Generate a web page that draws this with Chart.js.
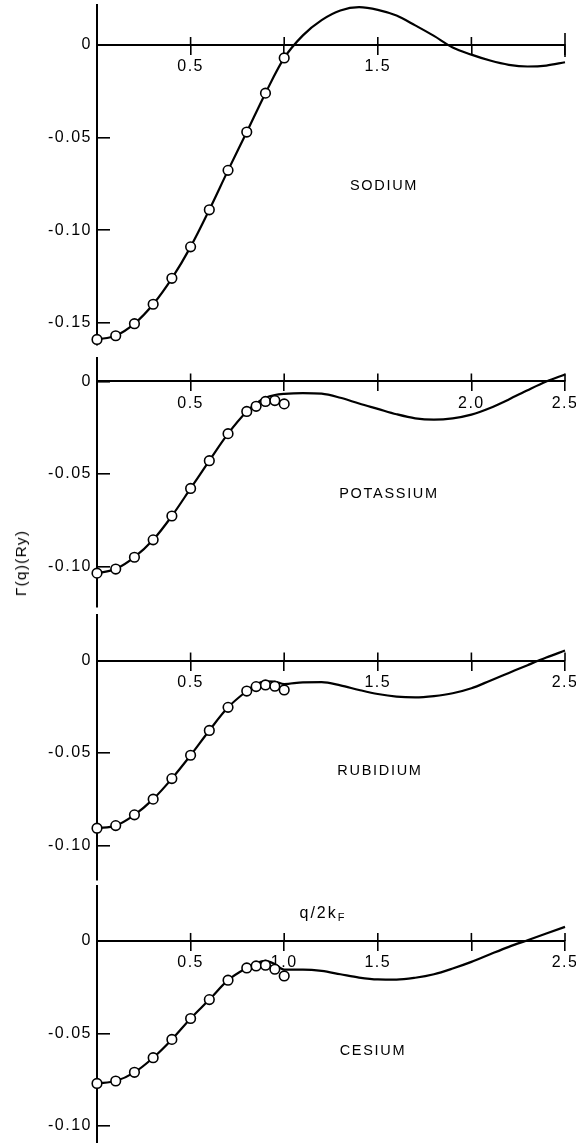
<!DOCTYPE html>
<html>
<head>
<meta charset="utf-8">
<script src="https://cdn.jsdelivr.net/npm/chart.js@4.4.1/dist/chart.umd.min.js"></script>
<style>
html,body{margin:0;padding:0;background:#fff;overflow:hidden;}
#wrap{position:relative;width:576px;height:1143px;overflow:hidden;font-family:"Liberation Sans",Arial,sans-serif;color:#000;}
canvas{position:absolute;left:0;}
.lbl{position:absolute;font-size:14.5px;letter-spacing:1.7px;transform:translate(-50%,-50%);white-space:nowrap;}
.ytitle{position:absolute;font-size:15.5px;letter-spacing:1.2px;white-space:nowrap;transform:translate(-50%,-50%) rotate(-90deg);}
.xtitle{position:absolute;font-size:16px;letter-spacing:2px;white-space:nowrap;transform:translate(-50%,-50%);}
.xtitle sub{font-size:11px;letter-spacing:0;vertical-align:-3px;}
</style>
</head>
<body>
<div id="wrap">
  <canvas id="cNa"></canvas>
  <canvas id="cK"></canvas>
  <canvas id="cRb"></canvas>
  <canvas id="cCs"></canvas>
  <div class="lbl" style="left:384px;top:185px;">SODIUM</div>
  <div class="lbl" style="left:389px;top:493px;">POTASSIUM</div>
  <div class="lbl" style="left:380px;top:770px;">RUBIDIUM</div>
  <div class="lbl" style="left:373px;top:1050px;">CESIUM</div>
  <div class="xtitle" style="left:322px;top:913px;">q/2k<sub>F</sub></div>
  <div class="ytitle" style="left:21px;top:563px;">Γ(q)(Ry)</div>
</div>
<script>
// ---------- data ----------
const naPointQ = [0, 0.1, 0.2, 0.3, 0.4, 0.5, 0.6, 0.7, 0.8, 0.9, 1.0];
const naPointGamma = [-0.159, -0.157, -0.1505, -0.140, -0.126, -0.109, -0.089, -0.0677, -0.047, -0.026, -0.007];
const naCurveQ = [0, 0.1, 0.2, 0.3, 0.4, 0.5, 0.6, 0.7, 0.8, 0.9, 1.0, 1.1, 1.2, 1.3, 1.4, 1.5, 1.6, 1.7, 1.8, 1.9, 2.0, 2.1, 2.2, 2.3, 2.4, 2.5];
const naCurveGamma = [-0.159, -0.157, -0.1505, -0.140, -0.126, -0.109, -0.089, -0.0677, -0.047, -0.026, -0.007, 0.0052, 0.0134, 0.0186, 0.0204, 0.019, 0.0159, 0.0106, 0.0049, -0.0013, -0.0052, -0.0084, -0.0107, -0.0116, -0.0111, -0.0093];

const alkPointQ = [0, 0.1, 0.2, 0.3, 0.4, 0.5, 0.6, 0.7, 0.8, 0.85, 0.9, 0.95, 1.0];
const kPointGamma = [-0.1036, -0.1014, -0.095, -0.0856, -0.0727, -0.0578, -0.0428, -0.0282, -0.0162, -0.0134, -0.0108, -0.0103, -0.0121];
const rbPointGamma = [-0.0906, -0.0892, -0.0834, -0.0749, -0.0638, -0.0512, -0.0378, -0.0253, -0.0165, -0.0141, -0.0132, -0.0139, -0.0159];
const csPointGamma = [-0.077, -0.0757, -0.071, -0.0631, -0.0532, -0.0419, -0.0317, -0.0212, -0.0146, -0.0135, -0.0131, -0.0153, -0.0189];

const alkCurveQ = [0, 0.1, 0.2, 0.3, 0.4, 0.5, 0.6, 0.7, 0.8, 0.85, 0.9, 0.95, 1.0, 1.1, 1.2, 1.3, 1.4, 1.5, 1.6, 1.7, 1.8, 1.9, 2.0, 2.1, 2.2, 2.3, 2.4, 2.5];
const kCurveGamma = [-0.1036, -0.1014, -0.095, -0.0856, -0.0727, -0.0578, -0.0428, -0.0282, -0.0162, -0.0118, -0.0088, -0.0073, -0.0067, -0.0063, -0.0066, -0.0088, -0.0119, -0.0148, -0.0177, -0.0199, -0.0206, -0.0199, -0.0179, -0.0143, -0.0097, -0.0047, 0.0000, 0.0038];
const rbCurveGamma = [-0.0906, -0.0892, -0.0834, -0.0749, -0.0638, -0.0512, -0.0378, -0.0253, -0.0165, -0.0128, -0.0112, -0.0114, -0.0127, -0.0118, -0.0117, -0.0134, -0.0159, -0.0181, -0.0195, -0.0199, -0.0192, -0.0177, -0.015, -0.0109, -0.0067, -0.0025, 0.0016, 0.0054];
const csCurveGamma = [-0.077, -0.0757, -0.071, -0.0631, -0.0532, -0.0419, -0.0317, -0.0212, -0.0146, -0.0121, -0.0108, -0.0125, -0.0155, -0.0155, -0.0162, -0.018, -0.0198, -0.0208, -0.0209, -0.0199, -0.018, -0.0149, -0.0113, -0.0072, -0.0032, 0.0004, 0.004, 0.0076];

const xTickValues = [0.5, 1.0, 1.5, 2.0, 2.5];
const naXTickLabels = ['0.5', '', '1.5', '', ''];
const kXTickLabels = ['0.5', '', '', '2.0', '2.5'];
const rbXTickLabels = ['0.5', '', '1.5', '', '2.5'];
const csXTickLabels = ['0.5', '1.0', '1.5', '', '2.5'];

const naYTickValues = [0, -0.05, -0.10, -0.15];
const naYTickLabels = ['0', '-0.05', '-0.10', '-0.15'];
const yTickValues = [0, -0.05, -0.10];
const yTickLabels = ['0', '-0.05', '-0.10'];

// axis ranges of each panel
const naRange = [-0.162, 0.0216];
const kRange = [-0.1219, 0.0127];
const rbRange = [-0.1186, 0.0246];
const csRange = [-0.1092, 0.0297];

// ---------- layout (pixels) ----------
const panelLayout = [
  {id: 'cNa', top: 5,   bottom: 345, endTick: true},
  {id: 'cK',  top: 358, bottom: 607, endTick: false},
  {id: 'cRb', top: 615, bottom: 880, endTick: false},
  {id: 'cCs', top: 886, bottom: 1143, endTick: false}
];
const AXIS_X = 97, RIGHT_X = 565, PAD = 8, W = 576;
const FONT = {family: '"Liberation Sans", Arial, sans-serif', size: 16};

const crossTicks = {
  id: 'crossTicks',
  beforeDraw(chart) { chart.ctx.letterSpacing = '1.5px'; },
  afterDraw(chart, args, opts) {
    const xs = chart.scales.x, ys = chart.scales.y, ctx = chart.ctx;
    const y0 = ys.getPixelForValue(0);
    ctx.save();
    ctx.letterSpacing = '0px';
    ctx.strokeStyle = '#000';
    ctx.lineWidth = 1.6;
    xs.ticks.forEach((t, i) => {
      const px = xs.getPixelForValue(t.value);
      const last = opts.endTick && i === xs.ticks.length - 1;
      ctx.beginPath();
      ctx.moveTo(px, last ? y0 + 12 : y0);
      ctx.lineTo(px, y0 - (last ? 12 : 8));
      ctx.stroke();
    });
    ctx.restore();
  }
};

function toXY(qs, gs) { return qs.map((q, i) => ({x: q, y: gs[i]})); }

function makePanel(layout, pq, pg, cq, cg, range, xLabels, yVals, yLabels) {
  const cv = document.getElementById(layout.id);
  const h = layout.bottom - layout.top + 2 * PAD;
  cv.width = W; cv.height = h;
  cv.style.width = W + 'px'; cv.style.height = h + 'px';
  cv.style.top = (layout.top - PAD) + 'px';
  new Chart(cv, {
    type: 'scatter',
    data: {
      datasets: [
        {data: toXY(pq, pg), showLine: false, pointRadius: 4.8, pointHoverRadius: 4.8,
         pointBorderWidth: 1.6, pointBackgroundColor: '#fff', pointBorderColor: '#000',
         clip: false, order: 0},
        {data: toXY(cq, cg), showLine: true, borderColor: '#000', borderWidth: 2.2,
         pointRadius: 0, cubicInterpolationMode: 'monotone', clip: false, order: 1}
      ]
    },
    options: {
      responsive: false,
      animation: false,
      devicePixelRatio: 1,
      layout: {padding: {left: 0, right: W - RIGHT_X, top: PAD, bottom: PAD}},
      plugins: {legend: {display: false}, tooltip: {enabled: false}, crossTicks: {endTick: layout.endTick}},
      scales: {
        x: {
          type: 'linear', position: {y: 0}, min: 0, max: 2.5,
          afterBuildTicks: s => { s.ticks = xTickValues.map(v => ({value: v})); },
          afterFit: s => { s.paddingLeft = 0; s.paddingRight = 0; s.paddingTop = 0; s.paddingBottom = 0; },
          border: {display: true, color: '#000', width: 2},
          grid: {display: true, drawOnChartArea: false, drawTicks: true, tickLength: 9, color: '#000', lineWidth: 1.6},
          ticks: {color: '#000', padding: 3, font: FONT, maxRotation: 0, autoSkip: false,
                  callback: (v, i) => xLabels[i]}
        },
        y: {
          type: 'linear', position: 'left', min: range[0], max: range[1],
          afterBuildTicks: s => { s.ticks = yVals.map(v => ({value: v})); },
          afterFit: s => { s.width = AXIS_X; s.paddingTop = 0; s.paddingBottom = 0; },
          border: {display: true, color: '#000', width: 2},
          grid: {display: true, drawOnChartArea: false, drawTicks: true, tickLength: -13, color: '#000', lineWidth: 1.6},
          ticks: {color: '#000', padding: 18, font: FONT, autoSkip: false,
                  callback: (v, i) => yLabels[i]}
        }
      }
    },
    plugins: [crossTicks]
  });
}

makePanel(panelLayout[0], naPointQ, naPointGamma, naCurveQ, naCurveGamma, naRange, naXTickLabels, naYTickValues, naYTickLabels);
makePanel(panelLayout[1], alkPointQ, kPointGamma, alkCurveQ, kCurveGamma, kRange, kXTickLabels, yTickValues, yTickLabels);
makePanel(panelLayout[2], alkPointQ, rbPointGamma, alkCurveQ, rbCurveGamma, rbRange, rbXTickLabels, yTickValues, yTickLabels);
makePanel(panelLayout[3], alkPointQ, csPointGamma, alkCurveQ, csCurveGamma, csRange, csXTickLabels, yTickValues, yTickLabels);
</script>
</body>
</html>
